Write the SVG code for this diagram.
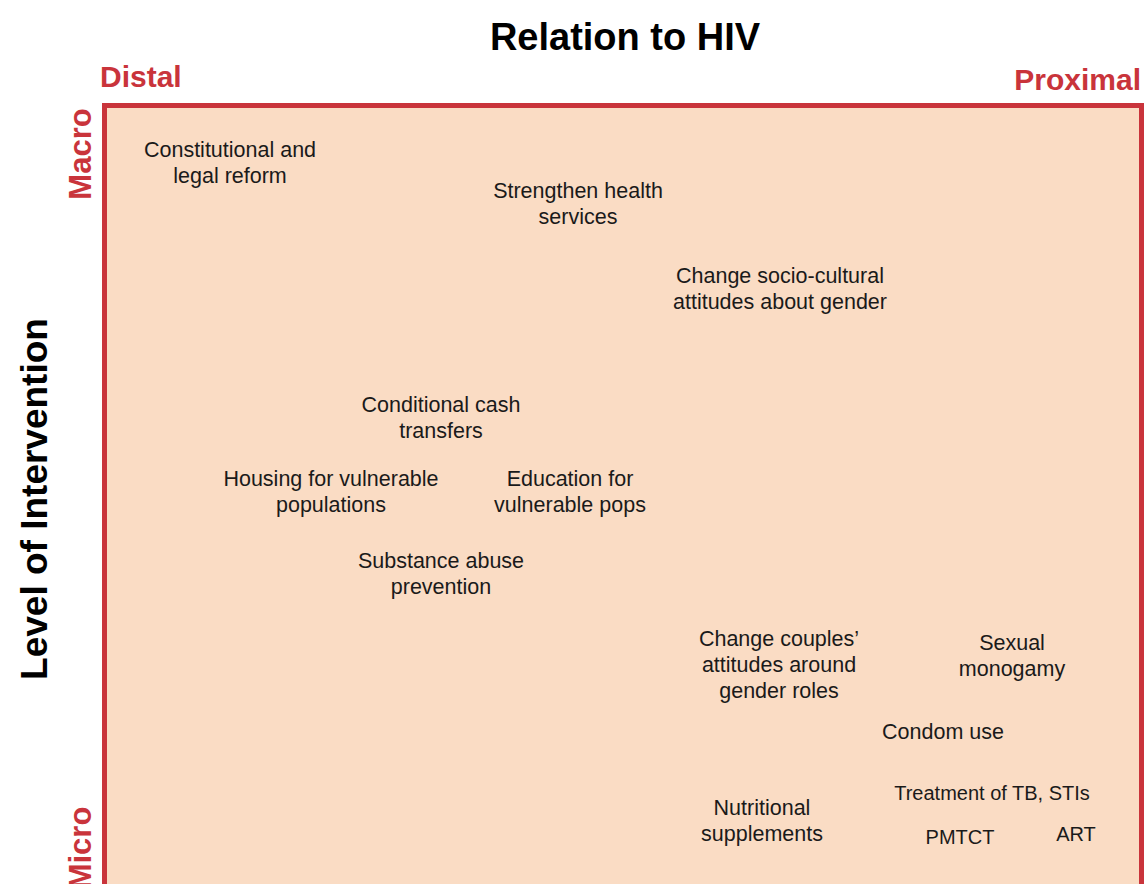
<svg xmlns="http://www.w3.org/2000/svg" width="1144" height="884" viewBox="0 0 1144 884">
<style>
.lbl{font-family:"Liberation Sans",Arial,sans-serif;font-size:21.5px;fill:#1a1a1a;text-anchor:middle}
.cap{font-size:20px}
.axis{font-family:"Liberation Sans",Arial,sans-serif;font-weight:bold;fill:#c9343b}
.title{font-family:"Liberation Sans",Arial,sans-serif;font-weight:bold;fill:#000}
</style>
<rect width="1144" height="884" fill="#ffffff"/>
<g id="frame">
<rect x="104.5" y="105.5" width="1037" height="820" fill="#fadcc4" stroke="#c9343b" stroke-width="5"/>
</g>
<g id="axes">
<text class="title" x="625" y="50" font-size="38" text-anchor="middle">Relation to HIV</text>
<text class="axis" x="100" y="87" font-size="30">Distal</text>
<text class="axis" x="1141" y="90" font-size="30" text-anchor="end">Proximal</text>
<text class="title" transform="translate(47,499) rotate(-90)" font-size="37" text-anchor="middle">Level of Intervention</text>
<text class="axis" transform="translate(91,154) rotate(-90)" font-size="31" text-anchor="middle">Macro</text>
<text class="axis" transform="translate(91,848) rotate(-90)" font-size="31" text-anchor="middle">Micro</text>
</g>
<g id="connectors"></g>
<g id="n1"><text class="lbl" x="230" y="157">Constitutional and</text><text class="lbl" x="230" y="183">legal reform</text></g>
<g id="n2"><text class="lbl" x="578" y="198">Strengthen health</text><text class="lbl" x="578" y="224">services</text></g>
<g id="n3"><text class="lbl" x="780" y="283">Change socio-cultural</text><text class="lbl" x="780" y="309">attitudes about gender</text></g>
<g id="n4"><text class="lbl" x="441" y="412">Conditional cash</text><text class="lbl" x="441" y="438">transfers</text></g>
<g id="n5"><text class="lbl" x="331" y="486">Housing for vulnerable</text><text class="lbl" x="331" y="512">populations</text></g>
<g id="n6"><text class="lbl" x="570" y="486">Education for</text><text class="lbl" x="570" y="512">vulnerable pops</text></g>
<g id="n7"><text class="lbl" x="441" y="568">Substance abuse</text><text class="lbl" x="441" y="594">prevention</text></g>
<g id="n8"><text class="lbl" x="779" y="646">Change couples’</text><text class="lbl" x="779" y="672">attitudes around</text><text class="lbl" x="779" y="698">gender roles</text></g>
<g id="n9"><text class="lbl" x="1012" y="650">Sexual</text><text class="lbl" x="1012" y="676">monogamy</text></g>
<g id="n10"><text class="lbl" x="943" y="739">Condom use</text></g>
<g id="n11"><text class="lbl cap" x="992" y="800">Treatment of TB, STIs</text></g>
<g id="n12"><text class="lbl" x="762" y="815">Nutritional</text><text class="lbl" x="762" y="841">supplements</text></g>
<g id="n13"><text class="lbl cap" x="960" y="844">PMTCT</text></g>
<g id="n14"><text class="lbl cap" x="1076" y="841">ART</text></g>
</svg>
